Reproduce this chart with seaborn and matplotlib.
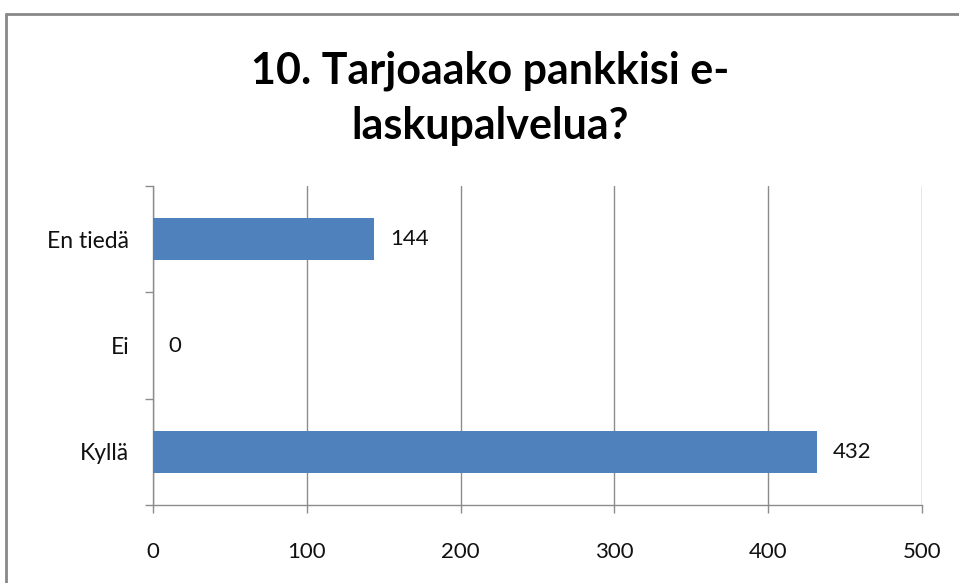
import numpy as np
import pandas as pd
import seaborn as sns
import matplotlib.pyplot as plt
from matplotlib.lines import Line2D

kategoriat = ["En tiedä", "Ei", "Kyllä"]
vastaukset = [144, 0, 432]
x_ticks = [0, 100, 200, 300, 400, 500]
otsikko = "10. Tarjoaako pankkisi e-\nlaskupalvelua?"

sns.set_style("white")
plt.rcParams['font.family'] = ['Lato', 'DejaVu Sans']

df = pd.DataFrame({"kategoria": kategoriat, "lkm": vastaukset})

fig = plt.figure(figsize=(9.59, 5.83), dpi=100)
ax = fig.add_axes([153 / 959, 1 - 505 / 583, (922 - 153) / 959, (505 - 186) / 583])

sns.barplot(data=df, x="lkm", y="kategoria", order=kategoriat, color="#4F81BD",
            saturation=1, width=0.39, ax=ax, zorder=3, linewidth=0, edgecolor="none")

ax.set_xlim(0, 500)
ax.set_ylim(2.5, -0.5)
ax.set_xticks(x_ticks)
ax.set_xlabel("")
ax.set_ylabel("")
ax.grid(axis="x", color="#8c8c8c", linewidth=1, zorder=0)

gray = "#8c8c8c"
for s in ["top", "right"]:
    ax.spines[s].set_visible(False)
for s in ["left", "bottom"]:
    ax.spines[s].set_color(gray)
    ax.spines[s].set_linewidth(1)

ax.tick_params(axis="x", length=6, color=gray, width=1, pad=21, labelsize=16,
               direction="out", bottom=True, labelcolor="#111111")
ax.tick_params(axis="y", which="major", length=0, pad=17, labelsize=16.5, labelcolor="#111111")
ax.set_yticks(np.arange(-0.5, 3, 1), minor=True)
ax.tick_params(axis="y", which="minor", length=6, color=gray, width=1, direction="out", left=True)

for c in ax.containers:
    ax.bar_label(c, labels=[str(v) for v in vastaukset], padding=11, fontsize=16, color="#111111")

fig.text(490 / 959, 1 - 98 / 583, otsikko, ha="center", va="center", fontsize=31,
         fontweight="bold", linespacing=1.45, color="black")

# kehys
fig.add_artist(Line2D([6 / 959, 1.0], [1 - 14 / 583] * 2, color="#888888", linewidth=2, transform=fig.transFigure))
fig.add_artist(Line2D([6 / 959] * 2, [0, 1 - 14 / 583], color="#888888", linewidth=2, transform=fig.transFigure))

fig.savefig("out.png", dpi=100)
